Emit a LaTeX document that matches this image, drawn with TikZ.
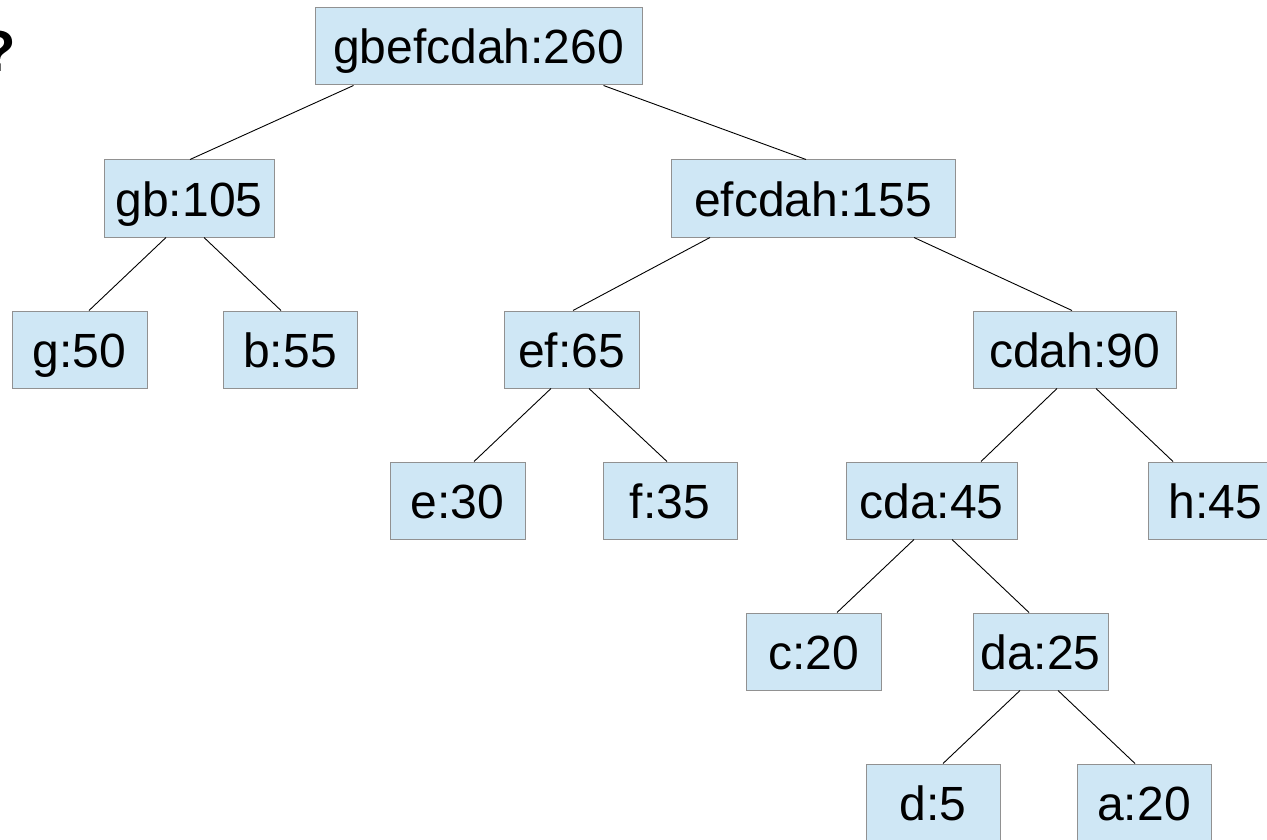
\documentclass[tikz,border=0pt]{standalone}
\usepackage{fontspec}
\setmainfont{Liberation Sans}
\usepackage{tikz}
\usetikzlibrary{positioning,calc}
\definecolor{boxfill}{RGB}{207,231,245}
\definecolor{boxline}{RGB}{145,145,145}

\begin{document}
\begin{tikzpicture}[x=1pt,y=-1pt,
    box/.style={rectangle,draw=boxline,fill=boxfill,line width=1pt,inner sep=0pt,
        minimum height=77pt,text height=35pt,text depth=0pt,
        font=\fontsize{48}{58}\selectfont},
    edge/.style={draw=black,line width=0.9pt}]
\path[use as bounding box] (0,0) rectangle (1267,840);
\node (mark) at (-20,72) [anchor=base west,inner sep=0pt,font=\fontsize{58}{60}\selectfont\bfseries] {?};
% levels of the tree
\node (root) at (478.5,46.5) [box,minimum width=327pt] {gbefcdah:260};
\node (gb) at (189,198.5) [box,minimum width=170pt] {gb:105};
\node (efcdah) at (813,198.5) [box,minimum width=284pt] {efcdah:155};
\node (g) at (79.5,349.5) [box,minimum width=135pt] {g:50};
\node (b) at (290,349.5) [box,minimum width=134pt] {b:55};
\node (ef) at (571.5,349.5) [box,minimum width=135pt] {ef:65};
\node (cdah) at (1074.5,349.5) [box,minimum width=203pt] {cdah:90};
\node (e) at (457.5,500.5) [box,minimum width=135pt] {e:30};
\node (f) at (670,500.5) [box,minimum width=134pt] {f:35};
\node (cda) at (931.5,500.5) [box,minimum width=171pt] {cda:45};
\node (h) at (1215.5,500.5) [box,minimum width=135pt] {h:45};
\node (c) at (813.5,651.5) [box,minimum width=135pt] {c:20};
\node (da) at (1040.5,651.5) [box,minimum width=135pt] {da:25};
\node (d) at (933,802.5) [box,minimum width=134pt] {d:5};
\node (a) at (1144,802.5) [box,minimum width=134pt] {a:20};
% connectors
\draw[edge] ([xshift=-125]root.south) -- ([xshift=1]gb.north);
\draw[edge] ([xshift=125]root.south) -- ([xshift=-7]efcdah.north);
\draw[edge] ([xshift=-23]gb.south) -- ([xshift=9.5]g.north);
\draw[edge] ([xshift=15]gb.south) -- ([xshift=-9]b.north);
\draw[edge] ([xshift=-103]efcdah.south) -- ([xshift=1.5]ef.north);
\draw[edge] ([xshift=101]efcdah.south) -- ([xshift=-2.5]cdah.north);
\draw[edge] ([xshift=-20.5]ef.south) -- ([xshift=16.5]e.north);
\draw[edge] ([xshift=17.5]ef.south) -- ([xshift=-3]f.north);
\draw[edge] ([xshift=-17.5]cdah.south) -- ([xshift=49.5]cda.north);
\draw[edge] ([xshift=21.5]cdah.south) -- ([xshift=-42.5]h.north);
\draw[edge] ([xshift=-17.5]cda.south) -- ([xshift=23.5]c.north);
\draw[edge] ([xshift=20.5]cda.south) -- ([xshift=-11.5]da.north);
\draw[edge] ([xshift=-20.5]da.south) -- ([xshift=10]d.north);
\draw[edge] ([xshift=17.5]da.south) -- ([xshift=-9]a.north);
\end{tikzpicture}
\end{document}
